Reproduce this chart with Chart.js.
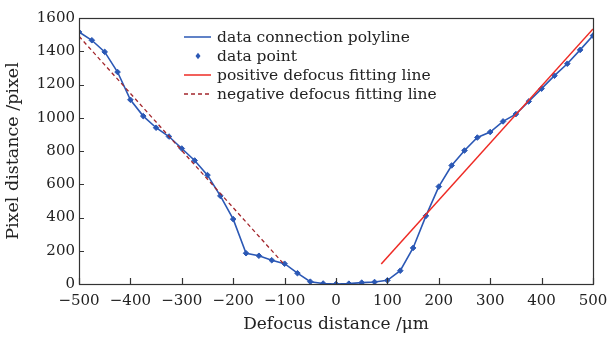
<!DOCTYPE html>
<html>
<head>
<meta charset="utf-8">
<script src="https://cdn.jsdelivr.net/npm/chart.js@4/dist/chart.umd.min.js"></script>
<style>
html,body{margin:0;padding:0;background:#fff;}
#wrap{width:609px;height:338px;}
</style>
</head>
<body>
<div id="wrap"><canvas id="c" width="609" height="338"></canvas></div>
<script>
// Data
const defocusX = [-500,-475,-450,-425,-400,-375,-350,-325,-300,-275,-250,-225,-200,-175,-150,-125,-100,-75,-50,-25,0,25,50,75,100,125,150,175,200,225,250,275,300,325,350,375,400,425,450,475,500];
const pixelDist = [1516,1466,1396,1275,1108,1010,940,887,815,743,655,530,390,185,170,143,122,65,14,3,0,2,8,12,22,80,217,410,586,713,803,881,914,978,1022,1098,1175,1253,1325,1408,1494];
const posFitX = [88, 500];
const posFitY = [120, 1534];
const negFitX = [-500, -100];
const negFitY = [1490, 115];
const xTicks = [-500,-400,-300,-200,-100,0,100,200,300,400,500];
const yTicks = [0,200,400,600,800,1000,1200,1400,1600];
const legendLabels = ["data connection polyline","data point","positive defocus fitting line","negative defocus fitting line"];
const xTitle = "Defocus distance /\u03bcm";
const yTitle = "Pixel distance /pixel";

const BLUE = "#2b58b5";
const RED = "#ee2b25";
const DRED = "#a3262c";
const AX = "#333333";
const SERIF = "'DejaVu Serif', serif";

const pts = (xs, ys) => xs.map((x, i) => ({x: x, y: ys[i]}));

const framePlugin = {
  id: 'framePlugin',
  afterDraw(chart) {
    const ctx = chart.ctx;
    const a = chart.chartArea;
    const xs = chart.scales.x, ys = chart.scales.y;
    ctx.save();
    ctx.strokeStyle = AX;
    ctx.lineWidth = 1.2;
    ctx.strokeRect(Math.round(a.left)+0.5, Math.round(a.top)+0.5, Math.round(a.right - a.left), Math.round(a.bottom - a.top));
    ctx.lineWidth = 1.2;
    ctx.beginPath();
    xTicks.forEach(v => {
      const px = Math.round(xs.getPixelForValue(v)) + 0.5;
      ctx.moveTo(px, a.bottom); ctx.lineTo(px, a.bottom - 6);
    });
    yTicks.forEach(v => {
      const py = Math.round(ys.getPixelForValue(v)) + 0.5;
      ctx.moveTo(a.left, py); ctx.lineTo(a.left + 5, py);
    });
    ctx.stroke();

    // legend
    const lx = 184, tx = 217;
    const rows = [37, 56, 75, 94];
    ctx.font = "15.5px " + SERIF;
    ctx.fillStyle = "#222";
    ctx.textBaseline = "middle";
    legendLabels.forEach((t, i) => {
      ctx.fillText(t, tx, rows[i] + 0.5);
    });
    // sample marks
    ctx.lineWidth = 1.5;
    ctx.strokeStyle = BLUE;
    ctx.setLineDash([]);
    ctx.beginPath(); ctx.moveTo(lx, rows[0]); ctx.lineTo(lx + 27, rows[0]); ctx.stroke();
    ctx.fillStyle = BLUE;
    ctx.beginPath();
    const cx = lx + 14, cy = rows[1];
    ctx.moveTo(cx, cy - 3.2); ctx.lineTo(cx + 2.5, cy); ctx.lineTo(cx, cy + 3.2); ctx.lineTo(cx - 2.5, cy); ctx.closePath(); ctx.fill();
    ctx.strokeStyle = RED;
    ctx.beginPath(); ctx.moveTo(lx, rows[2]); ctx.lineTo(lx + 27, rows[2]); ctx.stroke();
    ctx.strokeStyle = DRED;
    ctx.lineWidth = 1.3;
    ctx.setLineDash([4, 3]);
    ctx.beginPath(); ctx.moveTo(lx, rows[3]); ctx.lineTo(lx + 27, rows[3]); ctx.stroke();
    ctx.restore();
  }
};

new Chart(document.getElementById('c'), {
  type: 'scatter',
  data: {
    datasets: [
      {
        label: legendLabels[3],
        data: pts(negFitX, negFitY),
        showLine: true,
        borderColor: DRED,
        borderWidth: 1.3,
        borderDash: [4, 3],
        pointRadius: 0,
        fill: false
      },
      {
        label: legendLabels[2],
        data: pts(posFitX, posFitY),
        showLine: true,
        borderColor: RED,
        borderWidth: 1.5,
        pointRadius: 0,
        fill: false
      },
      {
        label: legendLabels[0],
        data: pts(defocusX, pixelDist),
        showLine: true,
        borderColor: BLUE,
        borderWidth: 1.6,
        pointStyle: 'rectRot',
        pointRadius: 2.8,
        pointBackgroundColor: BLUE,
        pointBorderColor: BLUE,
        pointBorderWidth: 1,
        fill: false
      }
    ]
  },
  options: {
    responsive: false,
    animation: false,
    devicePixelRatio: 1,
    layout: {padding: {top: 18, right: 16, left: 0, bottom: 0}},
    plugins: {legend: {display: false}, tooltip: {enabled: false}},
    scales: {
      x: {
        type: 'linear',
        min: -500, max: 500,
        afterFit(s) { s.height = 54; s.paddingRight = 0; s.paddingLeft = 0; },
        afterBuildTicks(s) { s.ticks = xTicks.map(v => ({value: v})); },
        grid: {display: false, drawTicks: false},
        border: {display: false},
        ticks: {
          padding: 8,
          color: "#222",
          font: {family: SERIF, size: 15},
          maxRotation: 0,
          callback: v => (v < 0 ? "\u2212" + Math.abs(v) : String(v))
        },
        title: {display: true, text: xTitle, color: "#222", font: {family: SERIF, size: 17}, padding: {top: 0, bottom: 3}}
      },
      y: {
        type: 'linear',
        min: 0, max: 1600,
        afterFit(s) { s.width = 79; s.paddingTop = 0; s.paddingBottom = 0; },
        afterBuildTicks(s) { s.ticks = yTicks.map(v => ({value: v})); },
        grid: {display: false, drawTicks: false},
        border: {display: false},
        ticks: {
          padding: 4,
          color: "#222",
          font: {family: SERIF, size: 15},
          callback: v => String(v)
        },
        title: {display: true, text: yTitle, color: "#222", font: {family: SERIF, size: 17.5}, padding: {top: 3, bottom: 0}}
      }
    }
  },
  plugins: [framePlugin]
});
</script>
</body>
</html>
